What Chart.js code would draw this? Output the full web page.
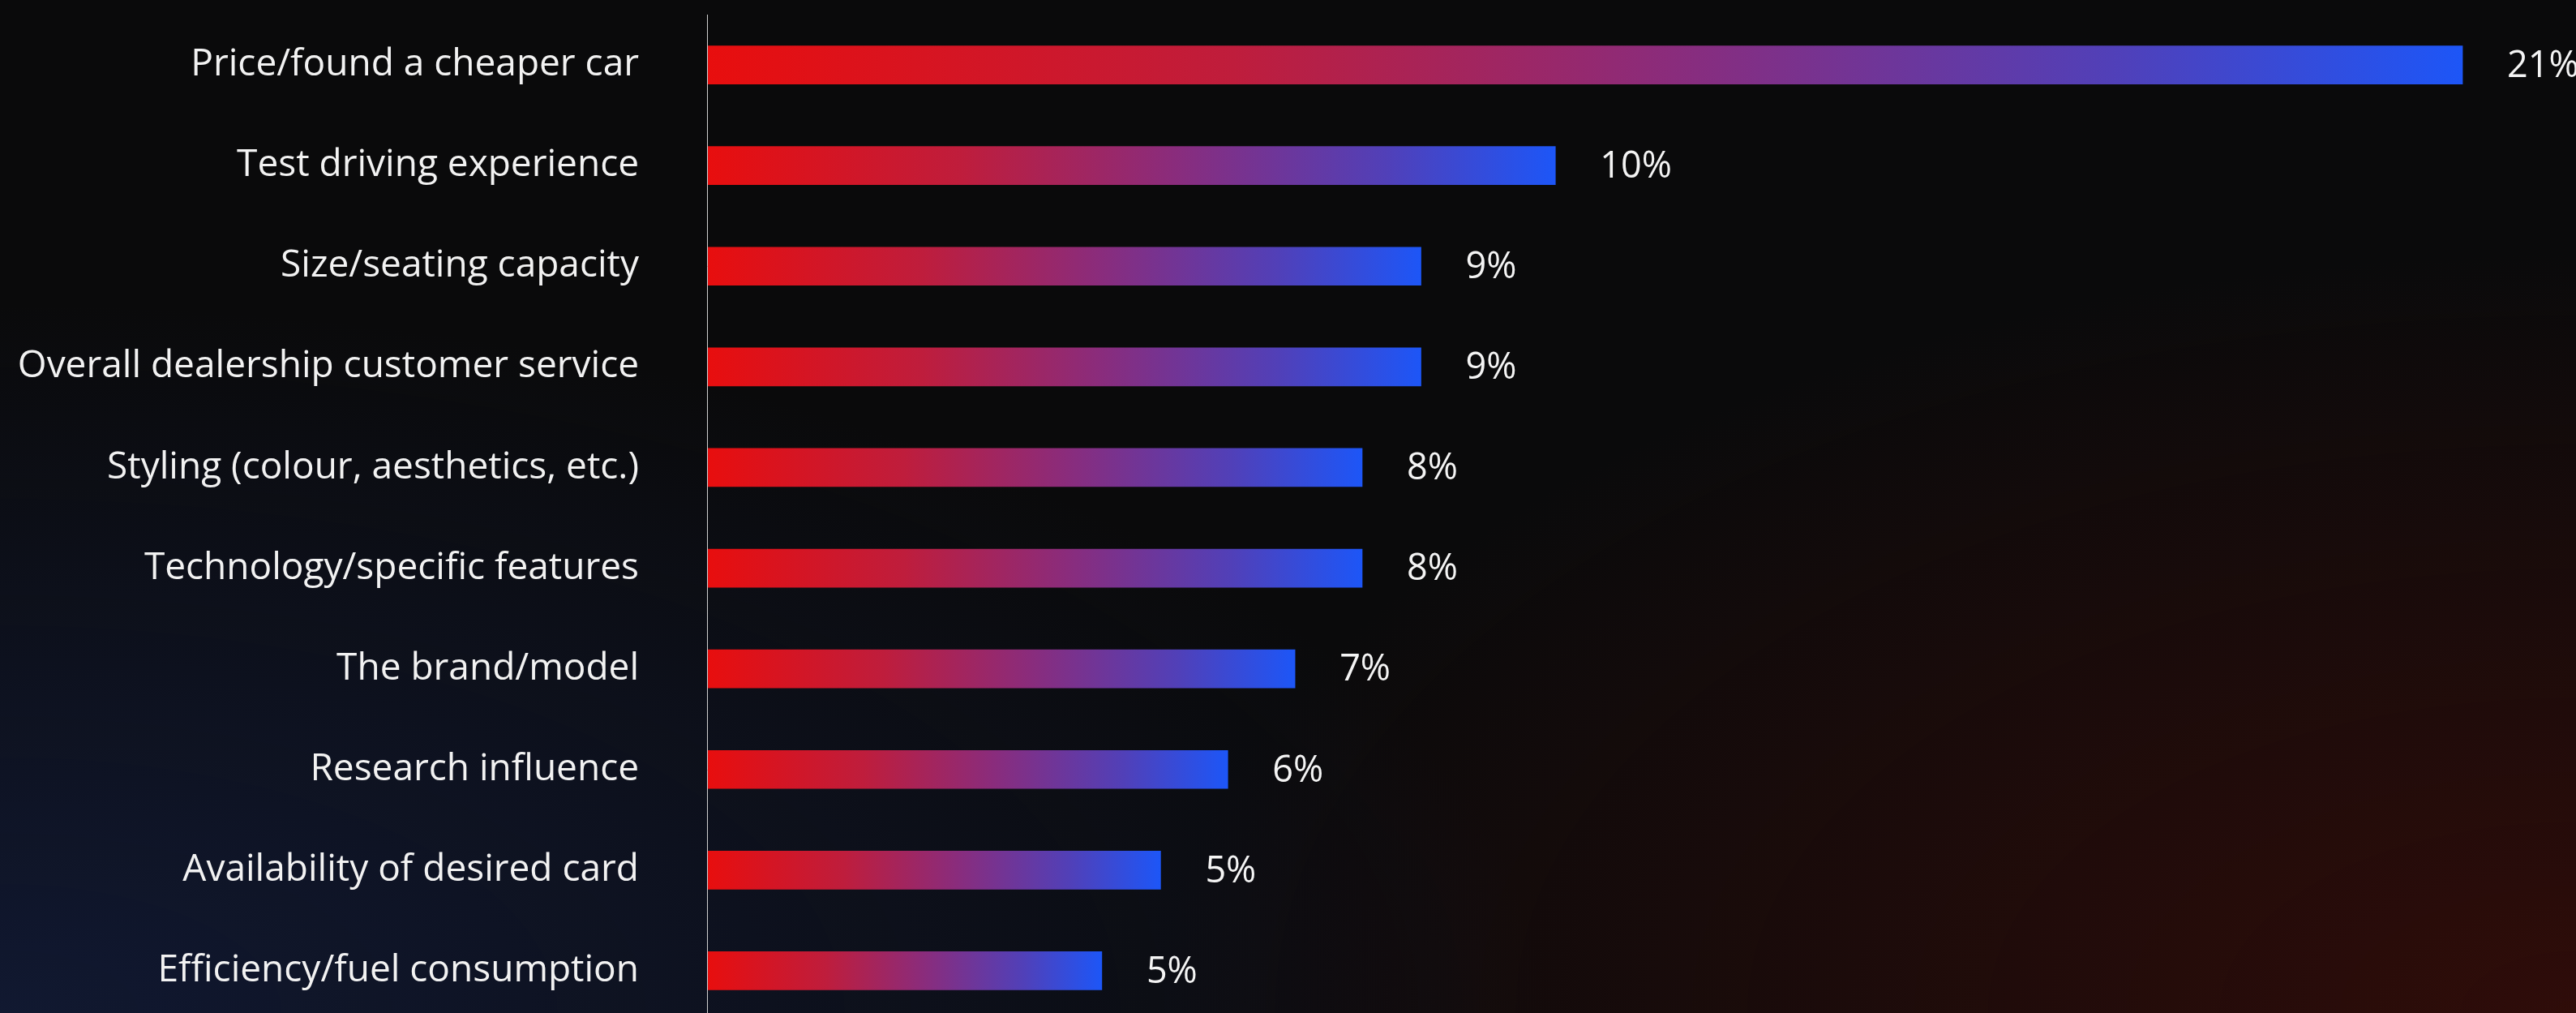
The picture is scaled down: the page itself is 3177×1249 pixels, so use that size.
<!DOCTYPE html>
<html>
<head>
<meta charset="utf-8">
<script src="https://cdn.jsdelivr.net/npm/chart.js@4.4.1/dist/chart.umd.min.js"></script>
<style>
  html, body { margin: 0; padding: 0; width: 3177px; height: 1249px; overflow: hidden; }
  body {
    background-color: #0a0a0b;
    background-image:
      radial-gradient(ellipse 60% 70% at 0% 100%, rgba(22,36,80,0.55), rgba(22,36,80,0) 100%),
      radial-gradient(ellipse 55% 75% at 100% 100%, rgba(72,14,8,0.6), rgba(72,14,8,0) 100%);
  }
  #wrap { position: absolute; left: 0; top: 0; width: 3177px; height: 1260px; }
</style>
</head>
<body>
<div id="wrap"><canvas id="c" width="3177" height="1260"></canvas></div>
<script>
const categories = [
  "Price/found a cheaper car",
  "Test driving experience",
  "Size/seating capacity",
  "Overall dealership customer service",
  "Styling (colour, aesthetics, etc.)",
  "Technology/specific features",
  "The brand/model",
  "Research influence",
  "Availability of desired card",
  "Efficiency/fuel consumption"
];
const values = [20.9, 10.1, 8.5, 8.5, 7.8, 7.8, 7.0, 6.2, 5.4, 4.7];
const valueLabels = ["21%", "10%", "9%", "9%", "8%", "8%", "7%", "6%", "5%", "5%"];
const xMax = 22;

const FONT = "'Open Sans', Roboto, sans-serif";

function barGradient(ctx) {
  const chart = ctx.chart;
  if (!chart.chartArea || ctx.raw === undefined) return '#e5100f';
  const xs = chart.scales.x;
  const x0 = xs.getPixelForValue(0);
  const x1 = xs.getPixelForValue(ctx.raw);
  const g = chart.ctx.createLinearGradient(x0, 0, x1, 0);
  g.addColorStop(0, '#e80e0e');
  g.addColorStop(0.3, '#bf1d3c');
  g.addColorStop(0.55, '#8a2c7c');
  g.addColorStop(0.8, '#5140b8');
  g.addColorStop(1, '#1d56f7');
  return g;
}

const valueLabelPlugin = {
  id: 'valueLabels',
  afterDatasetsDraw(chart) {
    const c = chart.ctx;
    const meta = chart.getDatasetMeta(0);
    c.save();
    c.font = "45px " + FONT;
    c.fillStyle = '#f4f4f4';
    c.textAlign = 'left';
    c.textBaseline = 'middle';
    meta.data.forEach((el, i) => {
      c.fillText(valueLabels[i], el.x + 55, el.y + 2);
    });
    c.restore();
  }
};

new Chart(document.getElementById('c'), {
  type: 'bar',
  data: {
    labels: categories,
    datasets: [{
      data: values,
      backgroundColor: barGradient,
      borderWidth: 0,
      barThickness: 47
    }]
  },
  options: {
    indexAxis: 'y',
    responsive: false,
    animation: false,
    layout: { padding: { left: 0, right: 26, top: 18, bottom: 1 } },
    plugins: { legend: { display: false }, tooltip: { enabled: false } },
    scales: {
      x: {
        display: false,
        min: 0,
        max: xMax
      },
      y: {
        afterFit(scale) {
          scale.width = 872;
          scale.paddingTop = 0;
          scale.paddingBottom = 0;
        },
        grid: { display: false, drawTicks: false },
        border: { display: true, color: '#cfcfcf', width: 1, z: 1 },
        ticks: {
          color: '#f2f2f2',
          padding: 84,
          font: { family: FONT, size: 46 }
        }
      }
    }
  },
  plugins: [valueLabelPlugin]
});
</script>
</body>
</html>
